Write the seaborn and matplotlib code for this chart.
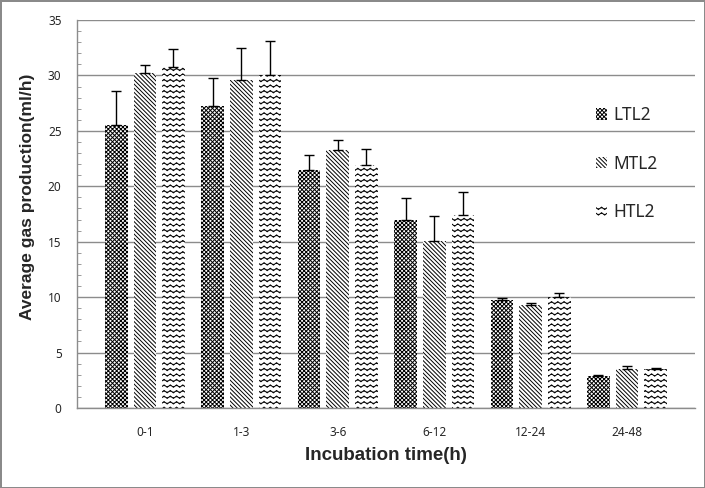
import warnings
import numpy as np
import pandas as pd
import matplotlib
matplotlib.use("Agg")
import matplotlib.pyplot as plt
import matplotlib.hatch as mhatch
from matplotlib.path import Path
import seaborn as sns

warnings.filterwarnings("ignore")

# data
times = ['0-1', '1-3', '3-6', '6-12', '12-24', '24-48']
groups = ['LTL2', 'MTL2', 'HTL2']
ltl2 = [25.5, 27.2, 21.5, 17.0, 9.7, 2.9]
mtl2 = [30.2, 29.6, 23.3, 15.1, 9.3, 3.5]
htl2 = [30.8, 30.0, 21.9, 17.4, 10.0, 3.5]
ltl2_err = [3.1, 2.6, 1.3, 1.9, 0.2, 0.1]
mtl2_err = [0.7, 2.9, 0.9, 2.2, 0.15, 0.3]
htl2_err = [1.6, 3.1, 1.5, 2.1, 0.35, 0.15]


# wavy hatch (excel style wave pattern), triggered by '~'
class WaveHatch(mhatch.HatchPatternBase):
    n_seg = 64
    periods = 16

    def __init__(self, hatch, density):
        self.num_lines = int(hatch.count('~') * density)
        self.num_vertices = self.num_lines * (self.n_seg + 1)

    def set_vertices_and_codes(self, vertices, codes):
        steps, stepsize = np.linspace(0.0, 1.0, self.num_lines, False, retstep=True)
        steps += stepsize / 2.
        xs = np.linspace(0.0, 1.0, self.n_seg + 1)
        wave = 0.012 * np.sin(2 * np.pi * self.periods * xs)
        n = self.n_seg + 1
        for i, s in enumerate(steps):
            vertices[i * n:(i + 1) * n, 0] = xs
            vertices[i * n:(i + 1) * n, 1] = s + wave
            codes[i * n] = Path.MOVETO
            codes[i * n + 1:(i + 1) * n] = Path.LINETO


mhatch._hatch_types.append(WaveHatch)

df = pd.DataFrame({
    'time': times * 3,
    'group': [g for g in groups for _ in times],
    'value': ltl2 + mtl2 + htl2,
})

sns.set_style('white')
plt.rcParams['font.family'] = ['Noto Sans', 'DejaVu Sans']
plt.rcParams['hatch.linewidth'] = 0.7

fig, ax = plt.subplots(figsize=(7.05, 4.88), dpi=100, edgecolor='#8a8a8a', linewidth=2)
fig.subplots_adjust(left=0.109, right=0.986, bottom=0.164, top=0.959)

sns.barplot(data=df, x='time', y='value', hue='group', hue_order=groups,
            palette=['white'] * 3, width=0.89, gap=0.21, errorbar=None,
            edgecolor='black', linewidth=0, ax=ax)

bar_containers = list(ax.containers)
hatches = ['x' * 8, '\\' * 8, '~~~']
errs = [ltl2_err, mtl2_err, htl2_err]
for cont, h, e in zip(bar_containers, hatches, errs):
    xs = []
    ys = []
    for bar in cont:
        bar.set_hatch(h)
        bar.set_edgecolor('black')
        bar.set_linewidth(0)
        xs.append(bar.get_x() + bar.get_width() / 2)
        ys.append(bar.get_height())
    ax.errorbar(xs, ys, yerr=[np.zeros(len(e)), e], fmt='none',
                ecolor='black', elinewidth=1, capsize=3.5, capthick=1, zorder=3)

ax.legend(bar_containers, groups, loc='upper left', bbox_to_anchor=(0.825, 0.8),
          frameon=False, fontsize=12.5, handlelength=0.65, handleheight=0.65,
          handletextpad=0.35, labelspacing=1.75, borderpad=0)

ax.set_ylim(0, 35)
ax.set_yticks(np.arange(0, 36, 5))
ax.set_yticks(np.arange(0, 36, 1), minor=True)
ax.yaxis.grid(True, color='#8c8c8c', linewidth=1)
ax.set_axisbelow(True)
for s in ['top', 'right']:
    ax.spines[s].set_visible(False)
for s in ['left', 'bottom']:
    ax.spines[s].set_color('#8c8c8c')
    ax.spines[s].set_linewidth(1)
ax.tick_params(axis='y', which='major', length=0, pad=11, labelsize=8.5)
ax.tick_params(axis='y', which='minor', direction='in', length=3, color='#8c8c8c', left=True)
ax.tick_params(axis='x', length=0, pad=13, labelsize=8.5)

# bold axis titles (Noto Sans here has no bold face)
ax.set_xlabel('Incubation time(h)', fontsize=13.5, fontweight='bold', labelpad=6,
              family='Liberation Sans')
ax.set_ylabel('Average gas production(ml/h)', fontsize=12.5, fontweight='bold',
              family=['Liberation Sans Narrow', 'Liberation Sans'])
ax.yaxis.set_label_coords(-0.068, 0.545)

plt.savefig('out.png', dpi=100)
